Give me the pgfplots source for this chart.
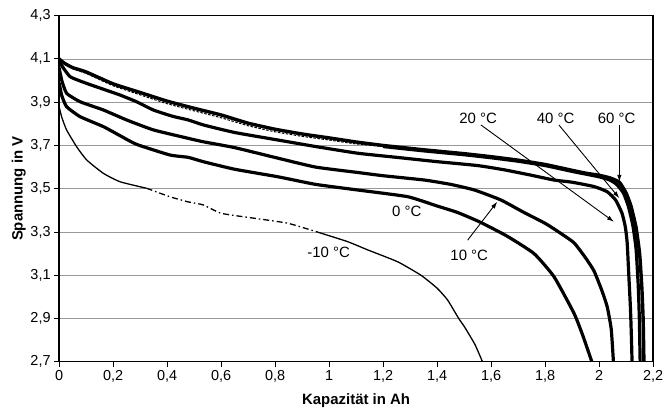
\documentclass[border=0pt]{standalone}
\usepackage{fontspec}
\setmainfont{Liberation Sans}
\usepackage{pgfplots}
\pgfplotsset{compat=1.18}
\usetikzlibrary{arrows.meta}

\begin{document}
\begin{tikzpicture}
\begin{axis}[
  name=a,
  scale only axis, width=594bp, height=346bp,
  xmin=0, xmax=2.2, ymin=2.7, ymax=4.3,
  xtick={0,0.2,0.4,0.6,0.8,1,1.2,1.4,1.6,1.8,2,2.2},
  ytick={2.7,2.9,3.1,3.3,3.5,3.7,3.9,4.1,4.3},
  xtick pos=bottom, ytick pos=left, tick align=outside,
  major tick length=5bp,
  tick style={black, line width=0.9pt},
  axis line style={line width=1.3pt},
  ymajorgrids, grid style={gray!80, line width=0.7pt},
  tick label style={font=\fontsize{14.5}{16}\selectfont},
  /pgf/number format/assume math mode=true,
  xticklabel style={/pgf/number format/.cd, use comma, 1000 sep={}},
  yticklabel style={/pgf/number format/.cd, fixed, fixed zerofill, precision=1, use comma},
  xlabel={\textbf{Kapazität in Ah}}, ylabel={\textbf{Spannung in V}},
  label style={font=\fontsize{15}{17}\selectfont},
  xlabel style={at={(axis description cs:0.5,0)}, anchor=center, yshift=-38.5bp},
  ylabel style={at={(axis description cs:-0.068,0.5)}, anchor=center},
  every axis plot/.append style={smooth, tension=0.3},
]
% -10 °C (thin, partly broken in the scan)
\addplot[black, line width=1.3bp] coordinates {
(0,3.88) (0.01,3.83) (0.028,3.771) (0.065,3.694) (0.102,3.633) (0.164,3.571)
(0.226,3.532) (0.324,3.502)};
\addplot[black, line width=1.3bp, dash pattern=on 6bp off 3bp on 1.5bp off 3bp] coordinates {
(0.324,3.502) (0.41,3.463) (0.478,3.439) (0.534,3.425) (0.601,3.386) (0.725,3.363)
(0.848,3.340) (0.971,3.294)};
\addplot[black, line width=1.3bp] coordinates {
(0.971,3.294) (1.069,3.255) (1.143,3.217) (1.254,3.162) (1.34,3.10) (1.40,3.04)
(1.439,2.985) (1.48,2.90) (1.501,2.862) (1.54,2.78) (1.568,2.70)};
% 0 °C
\addplot[black, line width=3.2bp] coordinates {
(0,3.99) (0.01,3.93) (0.028,3.879) (0.078,3.833) (0.164,3.787) (0.226,3.745)
(0.287,3.705) (0.41,3.656) (0.478,3.645) (0.534,3.625) (0.65,3.59) (0.811,3.555)
(0.95,3.52) (1.106,3.494) (1.291,3.463) (1.40,3.42) (1.476,3.39) (1.56,3.345)
(1.66,3.28) (1.759,3.20) (1.833,3.093) (1.907,2.924) (1.94,2.82) (1.973,2.70)};
% 10 °C
\addplot[black, line width=3.2bp] coordinates {
(0,4.06) (0.01,4.0) (0.028,3.941) (0.078,3.902) (0.164,3.864) (0.25,3.818)
(0.349,3.772) (0.478,3.733) (0.534,3.717) (0.65,3.69) (0.811,3.641) (0.95,3.60)
(1.106,3.575) (1.2,3.56) (1.353,3.54) (1.45,3.52) (1.538,3.494) (1.636,3.448)
(1.722,3.39) (1.80,3.34) (1.85,3.30) (1.907,3.25) (1.95,3.18) (1.981,3.12)
(2.01,3.03) (2.030,2.954) (2.045,2.85) (2.053,2.70)};
% 20 °C
\addplot[black, line width=3.2bp] coordinates {
(0,4.10) (0.004,4.08) (0.041,4.018) (0.102,3.987) (0.164,3.96) (0.226,3.933)
(0.287,3.902) (0.349,3.864) (0.42,3.835) (0.478,3.818) (0.534,3.795) (0.65,3.76)
(0.811,3.725) (0.95,3.695) (1.106,3.664) (1.25,3.645) (1.4,3.625) (1.55,3.607)
(1.65,3.587) (1.75,3.562) (1.833,3.540) (1.9,3.53) (1.981,3.51) (2.03,3.486)
(2.061,3.448) (2.085,3.386) (2.097,3.324) (2.104,3.25) (2.11,3.10) (2.116,2.95)
(2.12,2.80) (2.122,2.70)};
% 40 °C (dashed where it separates from 60 °C, then solid)
\addplot[black, line width=1bp, dash pattern=on 2.5bp off 1.5bp] coordinates {
(0,4.10) (0.05,4.055) (0.1,4.033) (0.2,3.976) (0.3,3.934) (0.4,3.893) (0.5,3.860)
(0.6,3.828) (0.7,3.791) (0.8,3.763) (0.9,3.742) (1.0,3.725) (1.1,3.707) (1.2,3.695)};
\addplot[black, line width=3.2bp] coordinates {
(1.2,3.695) (1.35,3.675) (1.5,3.657) (1.6,3.643) (1.7,3.627) (1.8,3.607)
(1.9,3.580) (2.0,3.555) (2.04,3.54) (2.065,3.52) (2.09,3.48) (2.108,3.42)
(2.125,3.33) (2.137,3.22) (2.145,3.05) (2.149,2.90) (2.152,2.70)};
% 60 °C
\addplot[black, line width=3.4bp] coordinates {
(0,4.10) (0.02,4.08) (0.05,4.06) (0.1,4.04) (0.2,3.985) (0.3,3.945) (0.4,3.905)
(0.5,3.872) (0.6,3.841) (0.7,3.803) (0.8,3.775) (0.9,3.753) (1.0,3.735)
(1.1,3.716) (1.2,3.700) (1.35,3.68) (1.5,3.662) (1.6,3.648) (1.7,3.632)
(1.8,3.612) (1.9,3.585) (1.95,3.572) (2.0,3.562) (2.04,3.55) (2.075,3.53)
(2.10,3.48) (2.118,3.42) (2.137,3.32) (2.15,3.20) (2.158,3.05) (2.163,2.90)
(2.166,2.70)};
% labels and arrows
\tikzset{lbl/.style={font=\fontsize{15}{17}\selectfont, inner sep=0pt}}
\node[lbl] at (axis cs:1.552,3.827) {20 °C};
\node[lbl] at (axis cs:1.839,3.827) {40 °C};
\node[lbl] at (axis cs:2.065,3.827) {60 °C};
\node[lbl] at (axis cs:1.288,3.394) {0 °C};
\node[lbl] at (axis cs:1.519,3.193) {10 °C};
\node[lbl] at (axis cs:0.998,3.206) {-10 °C};
\draw[-{Latex[length=7bp,width=4.5bp]}, line width=0.9bp] (axis cs:1.562,3.795) -- (axis cs:2.055,3.347);
\draw[-{Latex[length=7bp,width=4.5bp]}, line width=0.9bp] (axis cs:1.851,3.795) -- (axis cs:2.075,3.456);
\draw[-{Latex[length=7bp,width=4.5bp]}, line width=0.9bp] (axis cs:2.075,3.795) -- (axis cs:2.075,3.532);
\draw[-{Latex[length=7bp,width=4.5bp]}, line width=0.9bp] (axis cs:1.513,3.262) -- (axis cs:1.623,3.44);
\end{axis}
\pgfresetboundingbox
\path ([shift={(-59.1bp,-50.3bp)}]a.south west) rectangle ([shift={(11.9bp,15.7bp)}]a.north east);
\end{tikzpicture}
\end{document}
